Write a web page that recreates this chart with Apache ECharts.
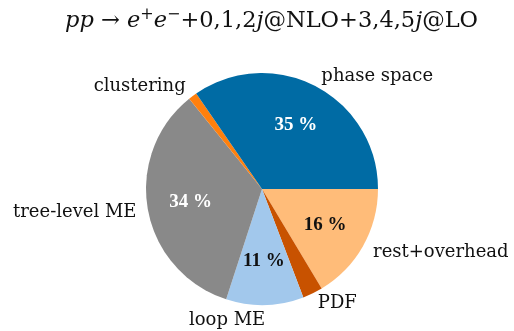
<!DOCTYPE html>
<html>
<head>
<meta charset="utf-8">
<script src="https://cdn.jsdelivr.net/npm/echarts@6/dist/echarts.min.js"></script>
<style>
  html, body { margin: 0; padding: 0; background: #fff; }
  #chart { width: 514px; height: 331px; }
</style>
</head>
<body>
<div id="chart"></div>
<script>
// Run-time breakdown in percent, clockwise from 3 o'clock
const categories = ['rest+overhead', 'PDF', 'loop ME', 'tree-level ME', 'clustering', 'phase space'];
const shares = [16.4, 2.8, 10.8, 34.2, 1.2, 34.6];
const colors = ['#FFBC79', '#C85200', '#A2C8EC', '#898989', '#FF800E', '#006BA4'];
const pctColors = ['#111', '#111', '#111', '#fff', '#fff', '#fff'];
const showPct = [true, false, true, true, false, true];
// labels that hang to the left of their anchor point
const rightAligned = ['loop ME'];

const FONT = '"DejaVu Serif", serif';
const PCT_FONT = '"Liberation Serif", serif';
const cx = 262, cy = 189, R = 116;

const chart = echarts.init(document.getElementById('chart'), null, { renderer: 'canvas' });

const outerData = categories.map((name, i) => ({
  name, value: shares[i], itemStyle: { color: colors[i] }
}));
const innerData = categories.map((name, i) => ({
  name, value: shares[i],
  label: { show: showPct[i], color: pctColors[i] }
}));

chart.setOption({
  animation: false,
  title: {
    left: 60,
    top: 2,
    text: '{i|pp} → {i|e}{s|+}{i|e}{s|−}+0,1,2{i|j}@NLO+3,4,5{i|j}@LO',
    textStyle: {
      fontFamily: FONT, fontSize: 22.5, color: '#111', fontWeight: 'normal',
      rich: {
        i: { fontFamily: FONT, fontSize: 22.5, fontStyle: 'italic', color: '#111' },
        s: { fontFamily: FONT, fontSize: 16, color: '#111', verticalAlign: 'top', padding: [0, 0, 12, 0] }
      }
    }
  },
  series: [
    {
      type: 'pie',
      center: [cx, cy],
      radius: [0, R],
      startAngle: 0,
      clockwise: true,
      avoidLabelOverlap: false,
      silent: true,
      data: outerData,
      itemStyle: { borderWidth: 0 },
      label: {
        show: true,
        position: 'outside',
        fontFamily: FONT,
        fontSize: 18,
        color: '#111',
        distanceToLabelLine: 0
      },
      labelLine: { show: false, length: R * 0.1, length2: 0 },
      labelLayout: p => (rightAligned.includes(p.text)
        ? { align: 'right', dy: 4, hideOverlap: false }
        : { hideOverlap: false })
    },
    {
      type: 'pie',
      center: [cx, cy],
      radius: [0, R * 1.2],
      startAngle: 0,
      clockwise: true,
      avoidLabelOverlap: false,
      silent: true,
      z: 3,
      data: innerData,
      itemStyle: { color: 'rgba(0,0,0,0)', borderWidth: 0 },
      label: {
        position: 'inside',
        fontFamily: PCT_FONT,
        fontSize: 19,
        fontWeight: 'bold',
        formatter: p => Math.round(p.percent) + ' %'
      },
      labelLine: { show: false }
    }
  ]
});
</script>
</body>
</html>
